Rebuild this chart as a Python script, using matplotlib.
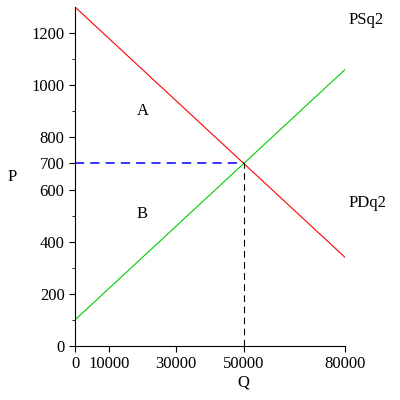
import matplotlib.pyplot as plt
import numpy as np

q = np.array([0, 80000])
demand = np.array([1300, 340])
supply = np.array([100, 1060])
eq_q, eq_p = 50000, 700
xticks = [0, 10000, 30000, 50000, 80000]
yticks = [0, 200, 400, 600, 700, 800, 1000, 1200]

plt.rcParams['font.family'] = ['Liberation Serif', 'DejaVu Serif']
fig = plt.figure(figsize=(4, 4), dpi=100)
ax = fig.add_axes([0.1875, 0.135, 0.675, 0.8475])

ax.plot(q, demand, color='red', lw=0.8)
ax.plot(q, supply, color='#00cc00', lw=0.8)
ax.plot([0, eq_q], [eq_p, eq_p], color='#0000ff', lw=1.1, dashes=(6, 4))
ax.plot([eq_q, eq_q], [0, eq_p], color='black', lw=0.8, dashes=(6, 4))

ax.set_xlim(0, 80000)
ax.set_ylim(0, 1300)
ax.set_xticks(xticks)
ax.set_xticklabels([str(t) for t in xticks])
ax.set_yticks(yticks)
ax.set_yticks([100, 300, 500, 900, 1100], minor=True)
for s in ['top', 'right']:
    ax.spines[s].set_visible(False)
ax.tick_params(labelsize=12, length=4, width=0.8)
ax.tick_params(which='minor', length=2)

ax.text(20000, 900, 'A', fontsize=12, ha='center', va='center')
ax.text(20000, 505, 'B', fontsize=12, ha='center', va='center')
ax.text(81000, 1250, 'PSq2', fontsize=12, va='center')
ax.text(81000, 548, 'PDq2', fontsize=12, va='center')
ax.text(-18500, 648, 'P', fontsize=12, ha='center', va='center')
ax.text(50000, -140, 'Q', fontsize=12, ha='center', va='center')

fig.savefig('out.png', dpi=100)
